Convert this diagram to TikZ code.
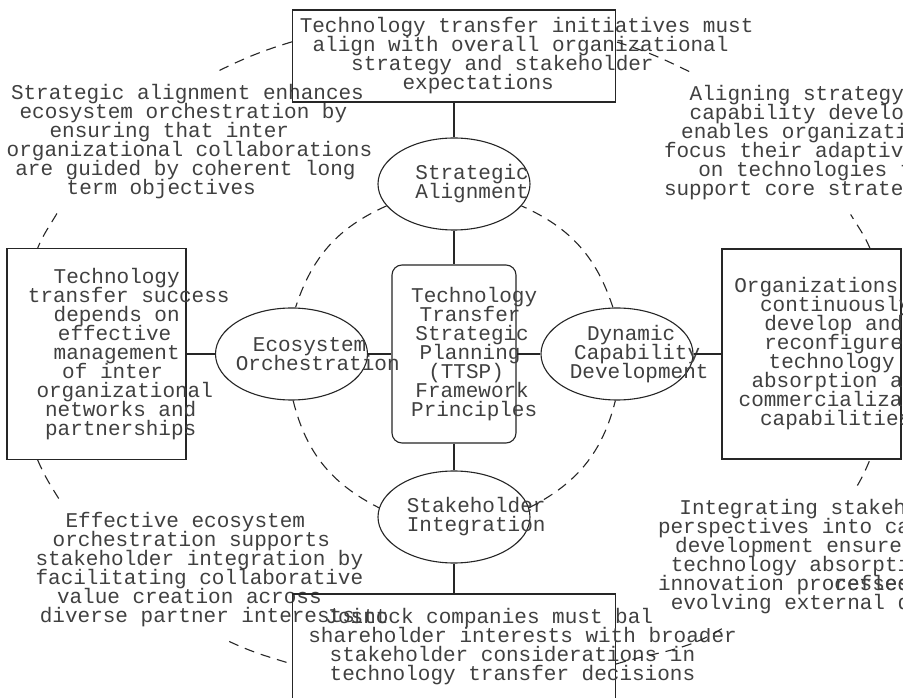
\documentclass[tikz,border=0pt]{standalone}
\usepackage{fontspec}
\setmonofont{Liberation Mono}
\usetikzlibrary{shapes.geometric}

\definecolor{inkline}{HTML}{262626}
\definecolor{inktext}{HTML}{404040}

\lineskiplimit=-50pt
% each line is centred as if it were narrower than it is
\newsavebox{\sqbox}
\newcommand{\sq}[1]{\sbox{\sqbox}{#1}\makebox[.68\wd\sqbox][l]{\usebox{\sqbox}}}

\begin{document}
\begin{tikzpicture}[
  x=1pt, y=1pt,
  % GLOBAL CFG
  font=\ttfamily\fontsize{21}{19}\selectfont,
  text=inktext,
  % Styles
  outerbox/.style={% For the boxes of the outer ring
      rectangle,
      draw=inkline,
      line width=1.1pt,
      align=center,
      inner sep=0pt,
      },
  framework/.style={% For the central box
      rectangle,
      rounded corners=10pt,
      draw=inkline,
      line width=1.1pt,
      align=center,
      minimum width=124pt,
      minimum height=178pt,
      inner sep=0pt,
      },
  pillar/.style={% For the four ellipses
      ellipse,
      draw=inkline,
      line width=1.1pt,
      align=center,
      minimum width=152pt,
      minimum height=92pt,
      inner sep=-3pt,
      },
  note/.style={% For the free texts between the boxes
      rectangle,
      fill=white,
      align=center,
      inner sep=14pt,
      },
  link/.style={% Solid links to the centre
      draw=inkline,
      line width=1.1pt,
      },
  ring/.style={% Dashed links round both rings
      draw=inkline,
      line width=1.1pt,
      dash pattern=on 10pt off 7pt,
      },
  ]

  \path [use as bounding box, fill=white] (0,0) rectangle (908,697);
  \clip (0,0) rectangle (902,697);

  % free texts
  \node [note] (tl) at (131,555) {\sq{Strategic alignment enhances}\\
    \sq{ecosystem orchestration by}\\ \sq{ensuring that inter}\\
    \sq{organizational collaborations}\\ \sq{are guided by coherent long}\\
    \sq{term objectives}};
  \node [note] (tr) at (784,554) {\sq{Aligning strategy with}\\
    \sq{capability development}\\ \sq{enables organizations to}\\
    \sq{focus their adaptive efforts}\\ \sq{on technologies that}\\
    \sq{support core strategic goals}};
  \node [note] (bl) at (147,127) {\sq{Effective ecosystem}\\
    \sq{orchestration supports}\\ \sq{stakeholder integration by}\\
    \sq{facilitating collaborative}\\ \sq{value creation across}\\
    \sq{diverse partner interests}};

  % outer boxes
  \node [outerbox, minimum width=179pt, minimum height=211pt] (lb) at (96.5,343)
    {\sq{Technology}\\ \sq{transfer success}\\ \sq{depends on}\\ \sq{effective}\\
     \sq{management}\\ \sq{of inter}\\ \sq{organizational}\\ \sq{networks and}\\
     \sq{partnerships}};
  \node [outerbox, minimum width=179pt, minimum height=210pt] (rb) at (811.5,343)
    {\sq{Organizations must}\\ \sq{continuously}\\ \sq{develop and}\\
     \sq{reconfigure}\\ \sq{technology}\\ \sq{absorption and}\\
     \sq{commercialization}\\ \sq{capabilities}};
  \node [outerbox, minimum width=323pt, minimum height=92pt] (tb) at (454,641)
    {\sq{Technology transfer initiatives must}\\
     \sq{align with overall organizational}\\ \sq{strategy and stakeholder}\\
     \sq{expectations}};

  % centre and pillars
  \node [framework] (cb) at (454,343) {\sq{Technology}\\ \sq{Transfer}\\
    \sq{Strategic}\\ \sq{Planning}\\ \sq{(TTSP)}\\ \sq{Framework}\\ \sq{Principles}};
  \node [pillar] (sa) at (454,513) {\sq{Strategic}\\ \sq{Alignment}};
  \node [pillar] (eo) at (291.5,343) {\sq{Ecosystem}\\ \sq{Orchestration}};
  \node [pillar] (dy) at (617,343) {\sq{Dynamic}\\ \sq{Capability}\\ \sq{Development}};
  \node [pillar] (st) at (454,180) {\sq{Stakeholder}\\ \sq{Integration}};

  \node [outerbox, minimum width=323pt, minimum height=106pt] (bb) at (454,50)
    {\sq{Jo\rlap{int}stock companies must balance}\\
     \sq{shareholder interests with broader}\\
     \sq{stakeholder considerations in}\\ \sq{technology transfer decisions}};
  \node [note, inner xsep=5pt] (br) at (778,140) {\sq{Integrating stakeholder}\\
    \sq{perspectives into capability}\\ \sq{development ensures that}\\
    \sq{technology absorption and}\\
    \sq{innovation pro\rlap{reflect}cesses\phantom{ reflect}}\\
    \sq{evolving external demands}};

  % spokes
  \draw [link] (tb) -- (sa);
  \draw [link] (sa) -- (cb);
  \draw [link] (cb) -- (st);
  \draw [link] (st) -- (bb);
  \draw [link] (lb) -- (eo);
  \draw [link] (eo) -- (cb);
  \draw [link] (cb) -- (dy);
  \draw [link] (dy) -- (rb);

  % inner ring
  \draw [ring] (sa.198) to[out=204, in=72] (eo.85);
  \draw [ring] (eo.272) to[out=284, in=153] (st.173);
  \draw [ring] (st.7) to[out=27, in=256] (dy.268);
  \draw [ring] (dy.95) to[out=108, in=336] (sa.342);

  % outer ring
  \draw [ring] (tb.175) to[out=197, in=26] (tl.39);
  \draw [ring] (tl.224) to[out=239, in=67] (lb.119);
  \draw [ring] (lb.241) to[out=293, in=122] (bl.141);
  \draw [ring] (bl.319) to[out=335, in=163] (bb.186);
  \draw [ring] (bb.354) to[out=17, in=212] (br.232);
  \draw [ring] (br.42) to[out=60, in=247] (rb.299);
  \draw [ring] (rb.61) to[out=113, in=301] (tr.313);
  \draw [ring] (tr.143) to[out=154, in=343] (tb.5);

\end{tikzpicture}
\end{document}
